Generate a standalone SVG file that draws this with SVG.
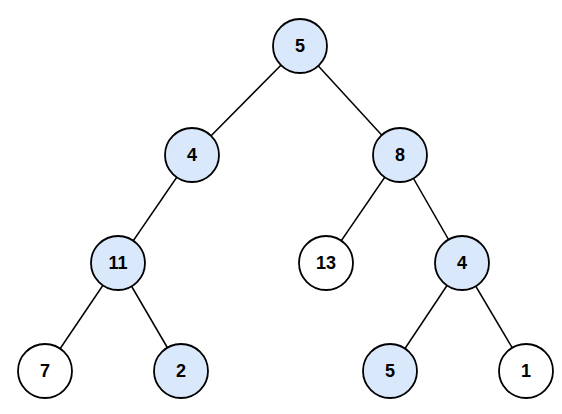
<svg xmlns="http://www.w3.org/2000/svg" width="562" height="414" viewBox="0 0 562 414">
<style>
.e{stroke:#000;stroke-width:1.5;fill:none}
.n circle{stroke:#000;stroke-width:1.8}
.b{fill:#dae8fc}
.w{fill:#fff}
.n text{font-family:"Liberation Sans",Arial,sans-serif;font-weight:bold;font-size:18px;text-anchor:middle;dominant-baseline:central;fill:#000}
</style>
<rect width="562" height="414" fill="#fff"/>
<g id="connectors">
<line class="e" x1="300" y1="46" x2="192" y2="155"/>
<line class="e" x1="300" y1="46" x2="400" y2="155"/>
<line class="e" x1="192" y1="155" x2="118" y2="263"/>
<line class="e" x1="400" y1="155" x2="326" y2="263"/>
<line class="e" x1="400" y1="155" x2="462" y2="263"/>
<line class="e" x1="118" y1="263" x2="45" y2="371"/>
<line class="e" x1="118" y1="263" x2="181" y2="371"/>
<line class="e" x1="462" y1="263" x2="390" y2="371"/>
<line class="e" x1="462" y1="263" x2="526" y2="371"/>
</g>
<g id="n5" class="n"><circle class="b" cx="300" cy="46" r="27"/><text x="300" y="46">5</text></g>
<g id="n4" class="n"><circle class="b" cx="192" cy="155" r="27"/><text x="192" y="155">4</text></g>
<g id="n8" class="n"><circle class="b" cx="400" cy="155" r="27"/><text x="400" y="155">8</text></g>
<g id="n11" class="n"><circle class="b" cx="118" cy="263" r="27"/><text x="118" y="263">11</text></g>
<g id="n13" class="n"><circle class="w" cx="326" cy="263" r="27"/><text x="326" y="263">13</text></g>
<g id="n4b" class="n"><circle class="b" cx="462" cy="263" r="27"/><text x="462" y="263">4</text></g>
<g id="n7" class="n"><circle class="w" cx="45" cy="371" r="27"/><text x="45" y="371">7</text></g>
<g id="n2" class="n"><circle class="b" cx="181" cy="371" r="27"/><text x="181" y="371">2</text></g>
<g id="n5b" class="n"><circle class="b" cx="390" cy="371" r="27"/><text x="390" y="371">5</text></g>
<g id="n1" class="n"><circle class="w" cx="526" cy="371" r="27"/><text x="526" y="371">1</text></g>
</svg>
